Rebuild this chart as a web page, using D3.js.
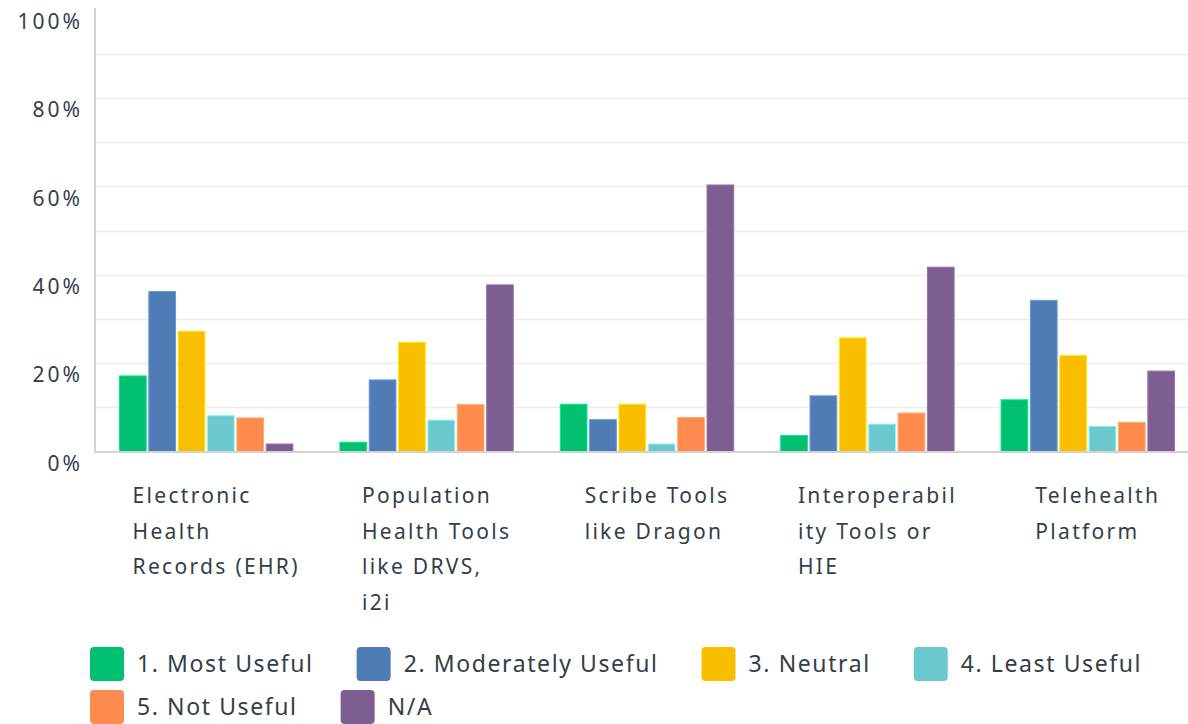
<!DOCTYPE html>
<html>
<head>
<meta charset="utf-8">
<script src="https://cdn.jsdelivr.net/npm/d3@7"></script>
<style>
  body { margin: 0; background: #fff; }
  svg { display: block; font-family: "Noto Sans", sans-serif; }
  .tick-label { fill: #333e48; font-size: 21px; letter-spacing: 3px; }
  .cat-label { fill: #333e48; font-size: 21px; letter-spacing: 2.3px; }
  .legend-label { fill: #333e48; font-size: 23px; letter-spacing: 1.6px; }
</style>
</head>
<body>
<svg width="1188" height="724"></svg>
<script>
(function (d3) {
  'use strict';

  // categories (each label already split into its wrapped lines)
  const categories = ['EHR', 'Population', 'Scribe', 'Interop', 'Telehealth'];
  const categoryLines = [
    ['Electronic', 'Health', 'Records (EHR)'],
    ['Population', 'Health Tools', 'like DRVS,', 'i2i'],
    ['Scribe Tools', 'like Dragon'],
    ['Interoperabil', 'ity Tools or', 'HIE'],
    ['Telehealth', 'Platform']
  ];

  const seriesNames = ['1. Most Useful', '2. Moderately Useful', '3. Neutral',
    '4. Least Useful', '5. Not Useful', 'N/A'];
  const seriesColors = ['#00bf6f', '#507cb6', '#f9be00', '#6bc8cd', '#ff8b4f', '#7d5e90'];

  // percent values per series, in the order of categories
  const mostUseful = [17.1, 2.1, 10.7, 3.6, 11.7];
  const moderatelyUseful = [36.2, 16.2, 7.2, 12.6, 34.2];
  const neutral = [27.2, 24.7, 10.7, 25.7, 21.7];
  const leastUseful = [8.1, 7.1, 1.7, 6.2, 5.7];
  const notUseful = [7.6, 10.6, 7.7, 8.7, 6.6];
  const notApplicable = [1.7, 37.7, 60.3, 41.7, 18.2];
  const seriesValues = [mostUseful, moderatelyUseful, neutral, leastUseful, notUseful, notApplicable];

  const yTicks = [0, 20, 40, 60, 80, 100];
  const yGrid = [10, 20, 30, 40, 50, 60, 70, 80, 90];

  const svg = d3.select('svg');
  const M = { left: 95, top: 9.5, right: 1198, bottom: 451.5 };

  const x0 = d3.scaleBand().domain(categories).range([M.left + 1, M.right]);
  const x1 = d3.scaleBand().domain(seriesNames)
    .range([0, x0.bandwidth()])
    .paddingInner(0.09)
    .paddingOuter(0.8);
  const y = d3.scaleLinear().domain([0, 100]).range([M.bottom, M.top]);

  // grid
  svg.append('g').selectAll('line').data(yGrid).join('line')
    .attr('x1', M.left).attr('x2', 1188)
    .attr('y1', d => Math.round(y(d)) + 0.5).attr('y2', d => Math.round(y(d)) + 0.5)
    .attr('stroke', '#ececec').attr('stroke-width', 1.5);

  // y tick labels (sit a little below their line)
  svg.append('g').selectAll('text').data(yTicks).join('text')
    .attr('class', 'tick-label')
    .attr('x', 83).attr('y', d => y(d) + 12)
    .attr('dy', '0.35em')
    .attr('text-anchor', 'end')
    .text(d => d + '%');

  // bars
  const rows = categories.map((c, i) => ({
    cat: c,
    vals: seriesNames.map((s, j) => ({ s, v: seriesValues[j][i], color: seriesColors[j] }))
  }));

  svg.append('g').selectAll('g').data(rows).join('g')
    .attr('transform', d => `translate(${x0(d.cat)},0)`)
    .selectAll('rect').data(d => d.vals).join('rect')
    .attr('x', d => x1(d.s))
    .attr('width', x1.bandwidth())
    .attr('y', d => y(d.v))
    .attr('height', d => y(0) - y(d.v))
    .attr('fill', d => d.color)
    .attr('stroke', d => d3.color(d.color).brighter(0.6))
    .attr('stroke-width', 1);

  // axes lines
  svg.append('line')
    .attr('x1', M.left).attr('x2', M.left)
    .attr('y1', 8).attr('y2', M.bottom + 1)
    .attr('stroke', '#d0d2d3').attr('stroke-width', 2);
  svg.append('line')
    .attr('x1', M.left).attr('x2', 1188)
    .attr('y1', M.bottom + 0.5).attr('y2', M.bottom + 0.5)
    .attr('stroke', '#d0d2d3').attr('stroke-width', 2);

  // category labels: left aligned block, centred under the group
  const catG = svg.append('g').selectAll('g').data(categories).join('g');
  catG.each(function (c, i) {
    const g = d3.select(this);
    const t = g.append('text').attr('class', 'cat-label');
    categoryLines[i].forEach((line, k) => {
      t.append('tspan').attr('x', 0).attr('y', 503 + k * 35.5).text(line);
    });
    let w = 0;
    t.selectAll('tspan').each(function () { w = Math.max(w, this.getComputedTextLength()); });
    const cx = x0(c) + x0.bandwidth() / 2;
    g.attr('transform', `translate(${cx - w / 2 + 10},0)`);
  });

  // legend
  const legendRows = [[0, 1, 2, 3], [4, 5]];
  const legend = svg.append('g');
  legendRows.forEach((row, r) => {
    let cx = 90;
    const cy = 664 + r * 43;
    row.forEach(j => {
      const item = legend.append('g').attr('transform', `translate(${cx},${cy})`);
      item.append('rect')
        .attr('x', 0).attr('y', -17)
        .attr('width', 34).attr('height', 34)
        .attr('rx', 4)
        .attr('fill', seriesColors[j]);
      const txt = item.append('text')
        .attr('class', 'legend-label')
        .attr('x', 47).attr('dy', '0.35em')
        .text(seriesNames[j]);
      cx += 47 + txt.node().getComputedTextLength() + 43;
    });
  });
}(d3));
</script>
</body>
</html>
